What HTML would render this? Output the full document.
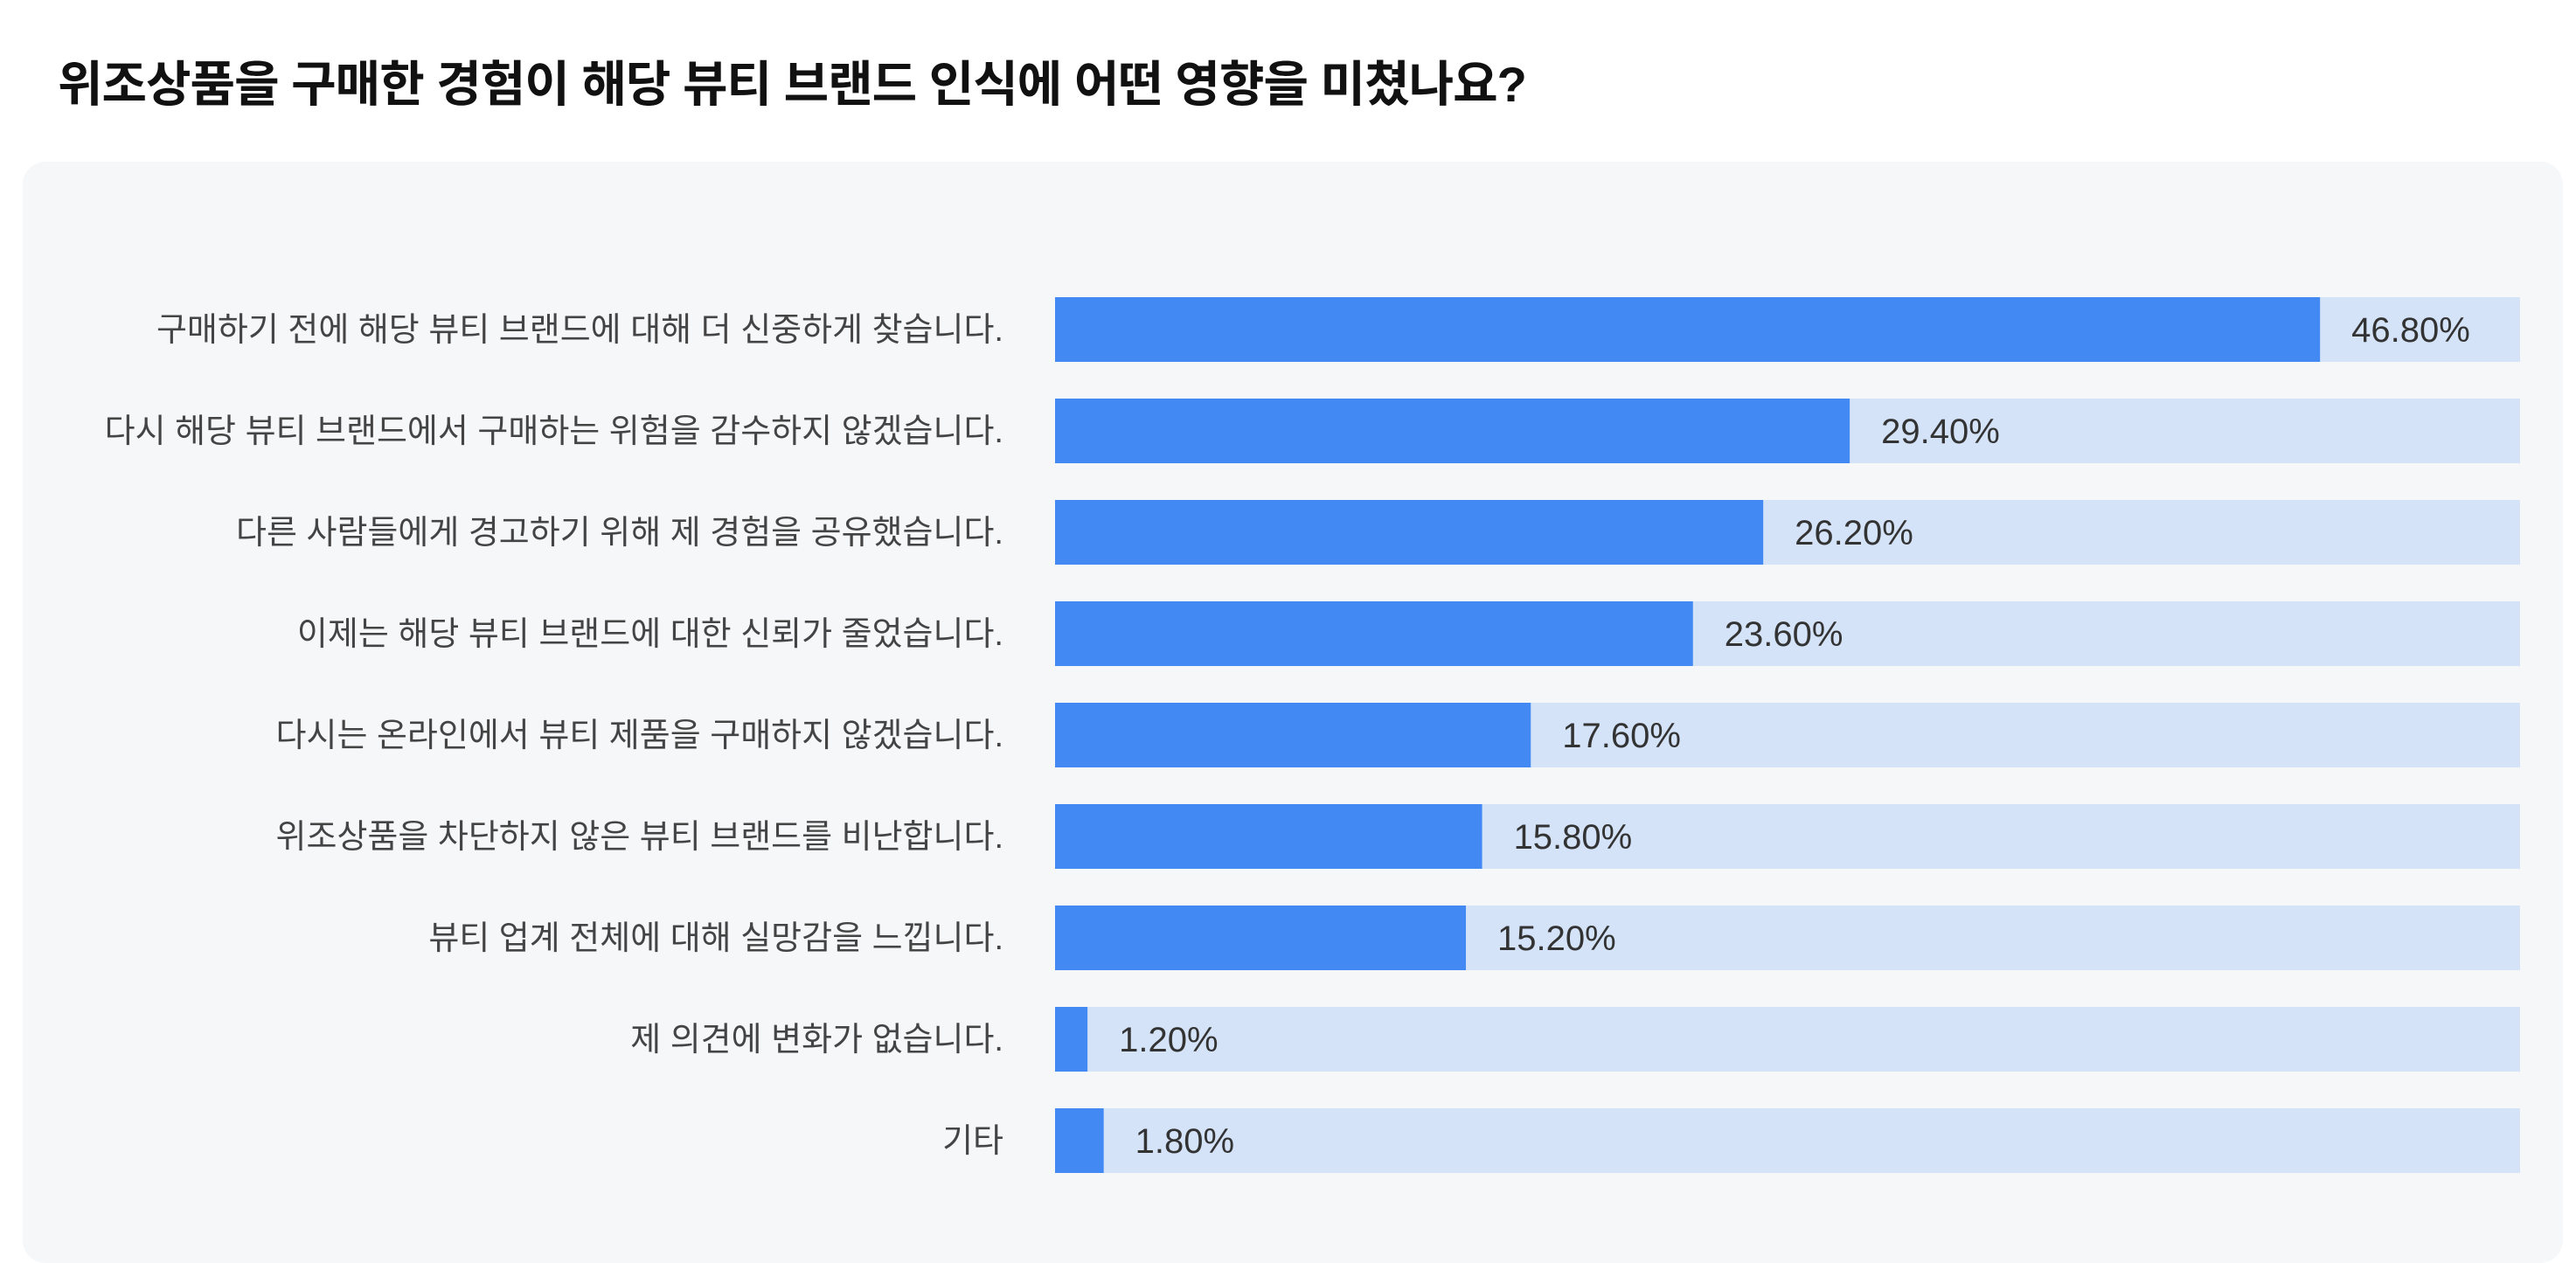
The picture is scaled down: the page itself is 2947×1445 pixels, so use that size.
<!DOCTYPE html>
<html><head><meta charset="utf-8"><style>
html,body{margin:0;padding:0;background:#fff;}
body{width:2947px;height:1415px;position:relative;overflow:hidden;font-family:"Liberation Sans","Noto Sans CJK KR",sans-serif;}
#title{position:absolute;left:66px;top:52px;font-size:56px;font-weight:bold;color:#111;letter-spacing:-1px;white-space:nowrap;}
#panel{position:absolute;left:26px;top:185px;width:2906px;height:1260px;background:#f6f7f9;border-radius:26px;}
</style></head><body>
<div id="title">위조상품을 구매한 경험이 해당 뷰티 브랜드 인식에 어떤 영향을 미쳤나요?</div>
<div id="panel"></div>
<svg id="chart" width="2947" height="1415" style="position:absolute;left:0;top:0"></svg>
<script>
const categories=["구매하기 전에 해당 뷰티 브랜드에 대해 더 신중하게 찾습니다.","다시 해당 뷰티 브랜드에서 구매하는 위험을 감수하지 않겠습니다.","다른 사람들에게 경고하기 위해 제 경험을 공유했습니다.","이제는 해당 뷰티 브랜드에 대한 신뢰가 줄었습니다.","다시는 온라인에서 뷰티 제품을 구매하지 않겠습니다.","위조상품을 차단하지 않은 뷰티 브랜드를 비난합니다.","뷰티 업계 전체에 대해 실망감을 느낍니다.","제 의견에 변화가 없습니다.","기타"];
const values=[46.8,29.4,26.2,23.6,17.6,15.8,15.2,1.2,1.8];
const valueLabels=["46.80%","29.40%","26.20%","23.60%","17.60%","15.80%","15.20%","1.20%","1.80%"];
const NS="http://www.w3.org/2000/svg";
const svg=document.getElementById('chart');
const x0=1207,x1=2883,maxV=54.2;
const xs=v=>x0+(v/maxV)*(x1-x0);
const ys=i=>340+i*116;
const bh=74;
function mk(t,a){const e=document.createElementNS(NS,t);for(const k in a)e.setAttribute(k,a[k]);svg.appendChild(e);return e;}
categories.forEach((c,i)=>{
  const y=ys(i);
  const tr=mk('rect',{x:x0,y:y,width:x1-x0,height:bh,fill:'#d4e3f8'});
  
  
  const b=mk('rect',{x:x0,y:y,width:xs(values[i])-x0,height:bh,fill:'#4289f4'});
  
  
  const l=mk('text',{x:1148,y:y+bh/2+13,'text-anchor':'end','font-size':38,fill:'#444'});
  l.textContent=c;
  
  
  const v=mk('text',{x:xs(values[i])+36,y:y+bh/2+14,'font-size':40,fill:'#333'});
  v.textContent=valueLabels[i];
  
  
});
</script>
</body></html>
